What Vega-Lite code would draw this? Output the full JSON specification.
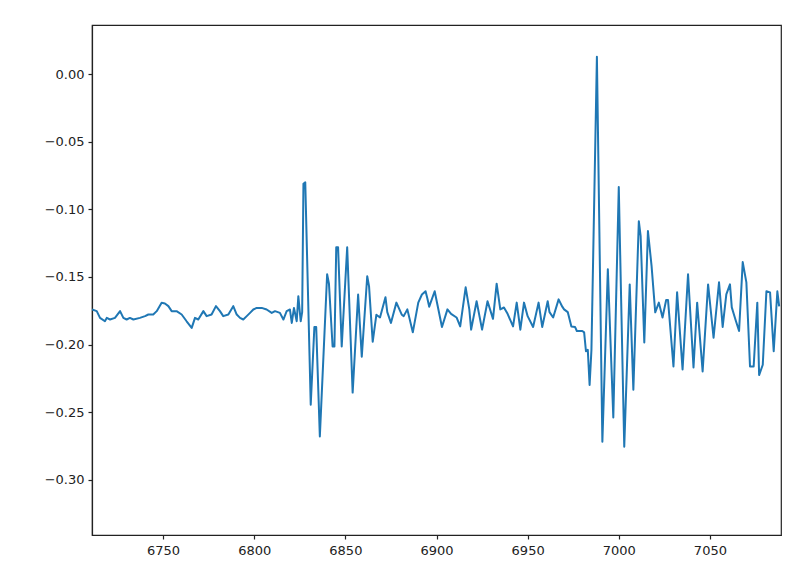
{
  "$schema": "https://vega.github.io/schema/vega-lite/v6.json",
  "width": 689,
  "height": 510,
  "autosize": {"type": "none"},
  "padding": {"left": 92, "top": 25, "right": 19, "bottom": 42},
  "background": "white",
  "config": {
    "view": {"stroke": "#222", "strokeWidth": 1.2},
    "axis": {
      "grid": false,
      "domainColor": "#222",
      "domainWidth": 1.2,
      "tickColor": "#222",
      "tickSize": 4,
      "tickWidth": 1.2,
      "labelFont": "DejaVu Sans",
      "labelFontSize": 13,
      "labelColor": "#222",
      "labelPadding": 4,
      "title": null
    }
  },
  "data": {
    "values": [
      {"x": 6711.0, "y": -0.1741},
      {"x": 6713.6, "y": -0.1753},
      {"x": 6715.4, "y": -0.1803},
      {"x": 6718.1, "y": -0.1828},
      {"x": 6719.1, "y": -0.1803},
      {"x": 6720.9, "y": -0.1815},
      {"x": 6723.6, "y": -0.1803},
      {"x": 6726.4, "y": -0.1753},
      {"x": 6728.2, "y": -0.1803},
      {"x": 6730.0, "y": -0.1815},
      {"x": 6731.8, "y": -0.1803},
      {"x": 6733.7, "y": -0.1815},
      {"x": 6737.3, "y": -0.1803},
      {"x": 6740.1, "y": -0.179},
      {"x": 6741.9, "y": -0.1778},
      {"x": 6744.6, "y": -0.1778},
      {"x": 6746.5, "y": -0.1753},
      {"x": 6749.2, "y": -0.1691},
      {"x": 6751.0, "y": -0.1696},
      {"x": 6752.9, "y": -0.1716},
      {"x": 6754.7, "y": -0.1753},
      {"x": 6757.4, "y": -0.1753},
      {"x": 6760.2, "y": -0.1778},
      {"x": 6762.9, "y": -0.1828},
      {"x": 6765.7, "y": -0.1877},
      {"x": 6767.5, "y": -0.1803},
      {"x": 6769.3, "y": -0.1815},
      {"x": 6772.1, "y": -0.1753},
      {"x": 6773.9, "y": -0.179},
      {"x": 6776.6, "y": -0.1778},
      {"x": 6779.0, "y": -0.1716},
      {"x": 6781.2, "y": -0.1753},
      {"x": 6783.0, "y": -0.179},
      {"x": 6785.8, "y": -0.1778},
      {"x": 6788.5, "y": -0.1716},
      {"x": 6790.4, "y": -0.1778},
      {"x": 6792.2, "y": -0.1803},
      {"x": 6794.0, "y": -0.1815},
      {"x": 6795.9, "y": -0.179},
      {"x": 6797.7, "y": -0.1766},
      {"x": 6799.5, "y": -0.1741},
      {"x": 6801.4, "y": -0.1729},
      {"x": 6804.1, "y": -0.1729},
      {"x": 6806.8, "y": -0.1741},
      {"x": 6809.6, "y": -0.1766},
      {"x": 6811.4, "y": -0.1753},
      {"x": 6814.1, "y": -0.1766},
      {"x": 6816.0, "y": -0.1815},
      {"x": 6817.8, "y": -0.1753},
      {"x": 6819.6, "y": -0.1741},
      {"x": 6820.6, "y": -0.184},
      {"x": 6821.8, "y": -0.1729},
      {"x": 6823.3, "y": -0.1828},
      {"x": 6824.2, "y": -0.1642},
      {"x": 6825.5, "y": -0.1828},
      {"x": 6826.3, "y": -0.176},
      {"x": 6827, "y": -0.081},
      {"x": 6828, "y": -0.080},
      {"x": 6831, "y": -0.2445},
      {"x": 6833, "y": -0.187},
      {"x": 6834, "y": -0.187},
      {"x": 6836, "y": -0.268},
      {"x": 6840, "y": -0.148},
      {"x": 6841, "y": -0.155},
      {"x": 6843, "y": -0.2015},
      {"x": 6844, "y": -0.2015},
      {"x": 6845, "y": -0.128},
      {"x": 6846, "y": -0.128},
      {"x": 6848, "y": -0.2015},
      {"x": 6851, "y": -0.128},
      {"x": 6854, "y": -0.2356},
      {"x": 6857, "y": -0.163},
      {"x": 6859, "y": -0.209},
      {"x": 6862, "y": -0.1495},
      {"x": 6863, "y": -0.157},
      {"x": 6865, "y": -0.198},
      {"x": 6867, "y": -0.178},
      {"x": 6869, "y": -0.180},
      {"x": 6872, "y": -0.165},
      {"x": 6873, "y": -0.176},
      {"x": 6875, "y": -0.184},
      {"x": 6878, "y": -0.169},
      {"x": 6881, "y": -0.178},
      {"x": 6882, "y": -0.179},
      {"x": 6884, "y": -0.174},
      {"x": 6887, "y": -0.191},
      {"x": 6890, "y": -0.169},
      {"x": 6892, "y": -0.163},
      {"x": 6894, "y": -0.1606},
      {"x": 6895, "y": -0.166},
      {"x": 6896, "y": -0.172},
      {"x": 6899, "y": -0.1606},
      {"x": 6903, "y": -0.187},
      {"x": 6906, "y": -0.174},
      {"x": 6908, "y": -0.1773},
      {"x": 6911, "y": -0.180},
      {"x": 6913, "y": -0.1866},
      {"x": 6916, "y": -0.1577},
      {"x": 6918, "y": -0.174},
      {"x": 6919, "y": -0.189},
      {"x": 6922, "y": -0.168},
      {"x": 6925, "y": -0.189},
      {"x": 6928, "y": -0.168},
      {"x": 6931, "y": -0.181},
      {"x": 6933, "y": -0.155},
      {"x": 6935, "y": -0.174},
      {"x": 6937, "y": -0.1726},
      {"x": 6939, "y": -0.1773},
      {"x": 6942, "y": -0.1866},
      {"x": 6944, "y": -0.169},
      {"x": 6946, "y": -0.189},
      {"x": 6948, "y": -0.169},
      {"x": 6950, "y": -0.179},
      {"x": 6953, "y": -0.187},
      {"x": 6956, "y": -0.169},
      {"x": 6958, "y": -0.187},
      {"x": 6961, "y": -0.168},
      {"x": 6962, "y": -0.176},
      {"x": 6964, "y": -0.180},
      {"x": 6967, "y": -0.1666},
      {"x": 6969, "y": -0.172},
      {"x": 6970, "y": -0.174},
      {"x": 6972, "y": -0.176},
      {"x": 6974, "y": -0.1866},
      {"x": 6976, "y": -0.187},
      {"x": 6977, "y": -0.190},
      {"x": 6980, "y": -0.190},
      {"x": 6981, "y": -0.191},
      {"x": 6982, "y": -0.205},
      {"x": 6983, "y": -0.204},
      {"x": 6984, "y": -0.230},
      {"x": 6985, "y": -0.204},
      {"x": 6988, "y": 0.013},
      {"x": 6991, "y": -0.272},
      {"x": 6994, "y": -0.1443},
      {"x": 6997, "y": -0.254},
      {"x": 7000, "y": -0.0835},
      {"x": 7003, "y": -0.2757},
      {"x": 7006, "y": -0.1555},
      {"x": 7008, "y": -0.2334},
      {"x": 7011, "y": -0.1087},
      {"x": 7012, "y": -0.1198},
      {"x": 7014, "y": -0.1985},
      {"x": 7016, "y": -0.116},
      {"x": 7018, "y": -0.142},
      {"x": 7020, "y": -0.1762},
      {"x": 7022, "y": -0.169},
      {"x": 7024, "y": -0.180},
      {"x": 7026, "y": -0.167},
      {"x": 7027, "y": -0.167},
      {"x": 7030, "y": -0.2163},
      {"x": 7032, "y": -0.1614},
      {"x": 7035, "y": -0.2185},
      {"x": 7038, "y": -0.148},
      {"x": 7041, "y": -0.217},
      {"x": 7043, "y": -0.169},
      {"x": 7046, "y": -0.220},
      {"x": 7049, "y": -0.1555},
      {"x": 7052, "y": -0.195},
      {"x": 7055, "y": -0.154},
      {"x": 7057, "y": -0.187},
      {"x": 7059, "y": -0.1629},
      {"x": 7061, "y": -0.1555},
      {"x": 7062, "y": -0.1725},
      {"x": 7064, "y": -0.1815},
      {"x": 7066, "y": -0.190},
      {"x": 7068, "y": -0.139},
      {"x": 7070, "y": -0.154},
      {"x": 7072, "y": -0.2163},
      {"x": 7074, "y": -0.2163},
      {"x": 7076, "y": -0.169},
      {"x": 7077, "y": -0.2226},
      {"x": 7079, "y": -0.215},
      {"x": 7081, "y": -0.1606},
      {"x": 7083, "y": -0.1614},
      {"x": 7085, "y": -0.205},
      {"x": 7087, "y": -0.1606},
      {"x": 7088, "y": -0.1718}
    ]
  },
  "mark": {"type": "line", "color": "#1f77b4", "strokeWidth": 2, "clip": true, "strokeJoin": "round"},
  "encoding": {
    "x": {
      "field": "x",
      "type": "quantitative",
      "scale": {"domain": [6711, 7089], "nice": false, "zero": false},
      "axis": {"values": [6750, 6800, 6850, 6900, 6950, 7000, 7050], "format": "d", "labelPadding": 5}
    },
    "y": {
      "field": "y",
      "type": "quantitative",
      "scale": {"domain": [-0.341, 0.0365], "nice": false, "zero": false},
      "axis": {"values": [0, -0.05, -0.1, -0.15, -0.2, -0.25, -0.3], "format": ".2f"}
    }
  }
}
